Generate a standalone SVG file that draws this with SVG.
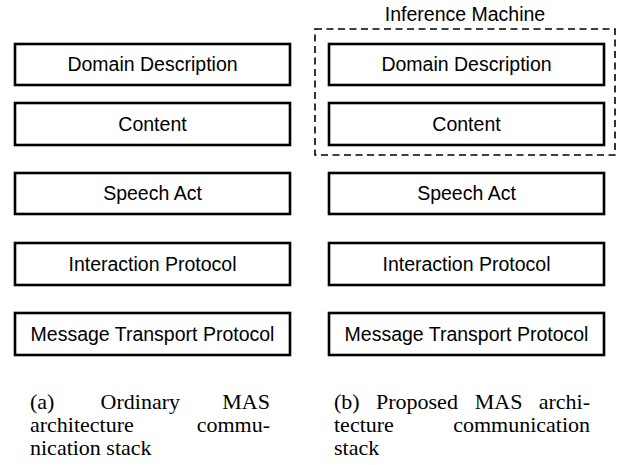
<svg xmlns="http://www.w3.org/2000/svg" width="626" height="465" viewBox="0 0 626 465">
<style>
.box{fill:#fff;stroke:#000;stroke-width:2.6}
.lbl{font-family:"Liberation Sans",Arial,sans-serif;font-size:19.5px;fill:#000;text-anchor:middle}
.cap{font-family:"Liberation Serif","Times New Roman",serif;font-size:22px;fill:#000}
.dash{fill:none;stroke:#000;stroke-width:1.6;stroke-dasharray:7 4.5}
.e{text-anchor:end}
.m{text-anchor:middle}
</style>
<rect width="626" height="465" fill="#fff"/>
<g id="left-stack">
<g id="a-domain"><rect class="box" x="15" y="44" width="275" height="41"/><text class="lbl" x="152.5" y="71">Domain Description</text></g>
<g id="a-content"><rect class="box" x="15" y="103" width="275" height="42"/><text class="lbl" x="152.5" y="130.5">Content</text></g>
<g id="a-speech"><rect class="box" x="15" y="173" width="275" height="41"/><text class="lbl" x="152.5" y="200">Speech Act</text></g>
<g id="a-interaction"><rect class="box" x="15" y="243" width="275" height="42"/><text class="lbl" x="152.5" y="270.5">Interaction Protocol</text></g>
<g id="a-transport"><rect class="box" x="15" y="313" width="275" height="42"/><text class="lbl" x="152.5" y="340.5">Message Transport Protocol</text></g>
</g>
<g id="right-stack">
<g id="inference-machine"><rect class="dash" x="315" y="29" width="300" height="126"/><text class="lbl" x="465" y="21">Inference Machine</text></g>
<g id="b-domain"><rect class="box" x="329" y="44" width="275" height="41"/><text class="lbl" x="466.5" y="71">Domain Description</text></g>
<g id="b-content"><rect class="box" x="329" y="103" width="275" height="42"/><text class="lbl" x="466.5" y="130.5">Content</text></g>
<g id="b-speech"><rect class="box" x="329" y="173" width="275" height="41"/><text class="lbl" x="466.5" y="200">Speech Act</text></g>
<g id="b-interaction"><rect class="box" x="329" y="243" width="275" height="42"/><text class="lbl" x="466.5" y="270.5">Interaction Protocol</text></g>
<g id="b-transport"><rect class="box" x="329" y="313" width="275" height="42"/><text class="lbl" x="466.5" y="340.5">Message Transport Protocol</text></g>
</g>
<g id="connectors"/>
<g id="caption-a" class="cap">
<text x="30" y="409">(a)</text><text x="140.3" y="409" class="m">Ordinary</text><text x="270" y="409" class="e">MAS</text>
<text x="30" y="432">architecture</text><text x="270" y="432" class="e">commu-</text>
<text x="30" y="455">nication stack</text>
</g>
<g id="caption-b" class="cap">
<text x="334" y="409">(b)</text><text x="376" y="409">Proposed</text><text x="522.5" y="409" class="e">MAS</text><text x="590" y="409" class="e">archi-</text>
<text x="334" y="432">tecture</text><text x="590" y="432" class="e">communication</text>
<text x="334" y="455">stack</text>
</g>
</svg>
